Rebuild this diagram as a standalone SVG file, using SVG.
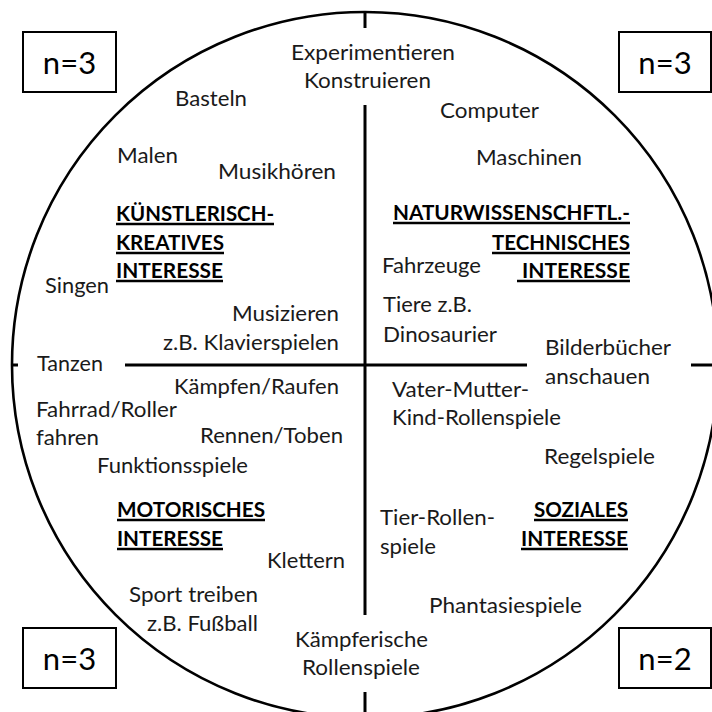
<svg xmlns="http://www.w3.org/2000/svg" width="712" height="712" viewBox="0 0 712 712">
  <style>
    .frame { fill: none; stroke: #000; stroke-width: 2.6; }
    .axis { stroke: #000; stroke-width: 3; fill: none; }
    .box { fill: #fff; stroke: #000; stroke-width: 2; }
    .n { font-family: Lato, "Liberation Sans", sans-serif; font-size: 31px; fill: #000; text-anchor: middle; }
    .t { font-family: Lato, "Liberation Sans", sans-serif; font-size: 22px; fill: #1a1a1a; }
    .h { font-family: Lato, "Liberation Sans", sans-serif; font-size: 20.5px; font-weight: bold; fill: #000; }
    .ul { stroke: #000; stroke-width: 2.4; }
    .r { text-anchor: end; }
  </style>

  <rect width="712" height="712" fill="#fff"/>

  <!-- outer circle with the two axes -->
  <g id="connectors">
    <circle class="frame" cx="365" cy="365" r="353"/>
    <line class="axis" x1="365" y1="12" x2="365" y2="28"/>
    <line class="axis" x1="365" y1="105" x2="365" y2="615"/>
    <line class="axis" x1="365" y1="692" x2="365" y2="712"/>
    <line class="axis" x1="12" y1="365" x2="18" y2="365"/>
    <line class="axis" x1="125" y1="365" x2="527" y2="365"/>
    <line class="axis" x1="691" y1="365" x2="712" y2="365"/>
  </g>

  <!-- count boxes -->
  <g id="count-top-left">
    <rect class="box" x="23" y="32" width="93" height="60"/>
    <text class="n" x="69.5" y="74">n=3</text>
  </g>
  <g id="count-top-right">
    <rect class="box" x="619" y="32" width="92" height="60"/>
    <text class="n" x="665" y="74">n=3</text>
  </g>
  <g id="count-bottom-left">
    <rect class="box" x="23" y="628" width="93" height="60"/>
    <text class="n" x="69.5" y="670">n=3</text>
  </g>
  <g id="count-bottom-right">
    <rect class="box" x="619" y="628" width="92" height="60"/>
    <text class="n" x="665" y="670">n=2</text>
  </g>

  <!-- top centre, on the axis -->
  <g id="axis-top">
    <text class="t" x="291" y="60" textLength="164" lengthAdjust="spacingAndGlyphs">Experimentieren</text>
    <text class="t" x="304" y="88" textLength="127" lengthAdjust="spacingAndGlyphs">Konstruieren</text>
  </g>

  <!-- artistic / creative quadrant -->
  <g id="quadrant-kuenstlerisch">
    <text class="t" x="175" y="106" textLength="72" lengthAdjust="spacingAndGlyphs">Basteln</text>
    <text class="t" x="117" y="163" textLength="61" lengthAdjust="spacingAndGlyphs">Malen</text>
    <text class="t" x="218" y="179" textLength="118" lengthAdjust="spacingAndGlyphs">Musikhören</text>
    <text class="h" x="116" y="221" textLength="158" lengthAdjust="spacingAndGlyphs">KÜNSTLERISCH-</text>
    <line class="ul" x1="116" y1="224" x2="274" y2="224"/>
    <text class="h" x="116" y="250" textLength="108" lengthAdjust="spacingAndGlyphs">KREATIVES</text>
    <line class="ul" x1="116" y1="253" x2="224" y2="253"/>
    <text class="h" x="116" y="278" textLength="107" lengthAdjust="spacingAndGlyphs">INTERESSE</text>
    <line class="ul" x1="116" y1="281" x2="223" y2="281"/>
    <text class="t" x="45" y="293" textLength="64" lengthAdjust="spacingAndGlyphs">Singen</text>
    <text class="t" x="232" y="321" textLength="107" lengthAdjust="spacingAndGlyphs">Musizieren</text>
    <text class="t" x="163" y="350" textLength="176" lengthAdjust="spacingAndGlyphs">z.B. Klavierspielen</text>
  </g>

  <!-- left, on the axis -->
  <g id="axis-left">
    <text class="t" x="37" y="371" textLength="66" lengthAdjust="spacingAndGlyphs">Tanzen</text>
  </g>

  <!-- science / technology quadrant -->
  <g id="quadrant-naturwissenschaftlich">
    <text class="t" x="440" y="118" textLength="99" lengthAdjust="spacingAndGlyphs">Computer</text>
    <text class="t" x="476" y="165" textLength="106" lengthAdjust="spacingAndGlyphs">Maschinen</text>
    <text class="h r" x="630" y="220" textLength="237" lengthAdjust="spacingAndGlyphs">NATURWISSENSCHFTL.-</text>
    <line class="ul" x1="393" y1="223" x2="630" y2="223"/>
    <text class="h r" x="630" y="250" textLength="138" lengthAdjust="spacingAndGlyphs">TECHNISCHES</text>
    <line class="ul" x1="492" y1="253" x2="630" y2="253"/>
    <text class="h r" x="630" y="278" textLength="108" lengthAdjust="spacingAndGlyphs">INTERESSE</text>
    <line class="ul" x1="517" y1="281" x2="630" y2="281"/>
    <text class="t" x="382" y="273" textLength="99" lengthAdjust="spacingAndGlyphs">Fahrzeuge</text>
    <text class="t" x="383" y="312" textLength="89" lengthAdjust="spacingAndGlyphs">Tiere z.B.</text>
    <text class="t" x="383" y="342" textLength="114" lengthAdjust="spacingAndGlyphs">Dinosaurier</text>
  </g>

  <!-- right, on the axis -->
  <g id="axis-right">
    <text class="t" x="545" y="355" textLength="126" lengthAdjust="spacingAndGlyphs">Bilderbücher</text>
    <text class="t" x="545" y="384" textLength="105" lengthAdjust="spacingAndGlyphs">anschauen</text>
  </g>

  <!-- social quadrant -->
  <g id="quadrant-sozial">
    <text class="t" x="392" y="397" textLength="137" lengthAdjust="spacingAndGlyphs">Vater-Mutter-</text>
    <text class="t" x="392" y="425" textLength="169" lengthAdjust="spacingAndGlyphs">Kind-Rollenspiele</text>
    <text class="t" x="544" y="464" textLength="111" lengthAdjust="spacingAndGlyphs">Regelspiele</text>
    <text class="h r" x="628" y="517" textLength="94" lengthAdjust="spacingAndGlyphs">SOZIALES</text>
    <line class="ul" x1="534" y1="520" x2="628" y2="520"/>
    <text class="h r" x="628" y="546" textLength="107" lengthAdjust="spacingAndGlyphs">INTERESSE</text>
    <line class="ul" x1="521" y1="549" x2="628" y2="549"/>
    <text class="t" x="380" y="525" textLength="115" lengthAdjust="spacingAndGlyphs">Tier-Rollen-</text>
    <text class="t" x="380" y="554" textLength="56" lengthAdjust="spacingAndGlyphs">spiele</text>
    <text class="t" x="429" y="613" textLength="153" lengthAdjust="spacingAndGlyphs">Phantasiespiele</text>
  </g>

  <!-- motor quadrant -->
  <g id="quadrant-motorisch">
    <text class="t" x="174" y="394" textLength="165" lengthAdjust="spacingAndGlyphs">Kämpfen/Raufen</text>
    <text class="t" x="36" y="417" textLength="141" lengthAdjust="spacingAndGlyphs">Fahrrad/Roller</text>
    <text class="t" x="36" y="445" textLength="63" lengthAdjust="spacingAndGlyphs">fahren</text>
    <text class="t" x="200" y="443" textLength="143" lengthAdjust="spacingAndGlyphs">Rennen/Toben</text>
    <text class="t" x="97" y="473" textLength="151" lengthAdjust="spacingAndGlyphs">Funktionsspiele</text>
    <text class="h" x="117" y="517" textLength="148" lengthAdjust="spacingAndGlyphs">MOTORISCHES</text>
    <line class="ul" x1="117" y1="520" x2="265" y2="520"/>
    <text class="h" x="117" y="546" textLength="106" lengthAdjust="spacingAndGlyphs">INTERESSE</text>
    <line class="ul" x1="117" y1="549" x2="223" y2="549"/>
    <text class="t" x="267" y="568" textLength="78" lengthAdjust="spacingAndGlyphs">Klettern</text>
    <text class="t" x="129" y="602" textLength="129" lengthAdjust="spacingAndGlyphs">Sport treiben</text>
    <text class="t" x="147" y="631" textLength="111" lengthAdjust="spacingAndGlyphs">z.B. Fußball</text>
  </g>

  <!-- bottom centre, on the axis -->
  <g id="axis-bottom">
    <text class="t" x="295" y="647" textLength="133" lengthAdjust="spacingAndGlyphs">Kämpferische</text>
    <text class="t" x="302" y="675" textLength="118" lengthAdjust="spacingAndGlyphs">Rollenspiele</text>
  </g>
</svg>
